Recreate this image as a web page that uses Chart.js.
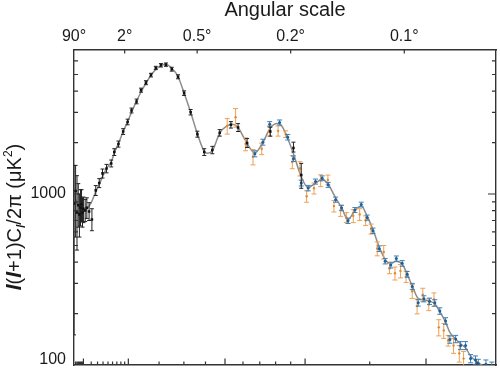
<!DOCTYPE html>
<html>
<head>
<meta charset="utf-8">
<script src="https://cdn.jsdelivr.net/npm/chart.js@4.4.1/dist/chart.umd.min.js"></script>
<style>
  html, body { margin: 0; padding: 0; background: #fff; }
</style>
</head>
<body>
<canvas id="cmb" width="500" height="369"></canvas>
<script>
// theory curve (grey line)
const curveL = [2,4,7,10,14,20,27,33,40,47,57,64,74,86,98,109,124,138,154,171,188,207,220,226,249,275,301,330,361,394,410,434,472,512,540,572,615,670,719,766,810,840,869,919,973,1022,1075,1124,1169,1226,1272,1323,1378,1430,1479,1527,1580,1631,1680,1729,1781,1826,1872,1927,1980,2033,2083,2131,2187,2229,2286,2335,2385,2436,2486,2537,2600,2700];
const curveD = [1000,880,830,810,820,890,1030,1140,1280,1410,1540,1740,1970,2320,2650,3000,3500,3950,4450,4950,5350,5640,5720,5720,5450,4850,3900,3010,2250,1770,1730,1790,2270,2510,2560,2450,2050,1740,2000,2430,2580,2500,2230,1720,1260,1090,1160,1220,1140,950,830,710,800,850,740,620,490,415,392,405,390,340,290,245,240,236,228,205,178,155,142,133,126,113,106,101,97,91];

// black points, with lower / upper ends of the error bars
const blackL = [2,3,4,5,6,7,8,9,10,12,14,17,21,27,33,39,47,57,64,74,86,98,109,124,138,154,171,188,207,226,249,275,301,330,361,394,434,472,532,572,624,766,919,973];
const blackD = [880,1040,780,860,760,830,870,780,820,800,830,790,710,1050,1160,1320,1410,1510,1760,1960,2320,2640,3080,3480,4050,4480,4960,5460,5660,5710,5370,4850,3890,3010,2240,1760,1810,2280,2540,2450,1990,2320,1860,1290];
const blackLo = [150,560,470,640,560,650,690,640,680,690,720,700,610,980,1090,1240,1330,1440,1680,1880,2230,2540,2980,3370,3940,4360,4840,5340,5530,5580,5230,4720,3770,2900,2150,1680,1720,2180,2430,2320,1870,2180,1760,1080];
const blackHi = [1470,1470,1280,1150,1000,1060,1060,950,960,930,950,890,820,1120,1230,1400,1490,1580,1840,2040,2410,2740,3180,3590,4160,4600,5080,5580,5790,5840,5510,4980,4010,3120,2330,1840,1900,2380,2650,2580,2110,2460,2010,1510];

// orange points
const orangeL = [512,558,615,659,712,762,816,866,911,964,1011,1064,1113,1167,1213,1265,1310,1365,1417,1466,1511,1563,1619,1669,1717,1766,1816,1872,1917,1970,2026,2075,2121,2169,2212,2265,2322,2365];
const orangeD = [2500,2810,1960,1650,1840,2340,2340,2240,1540,1410,970,1080,1200,1210,850,800,730,745,760,700,625,480,458,367,344,355,329,270,221,258,226,242,166,159,139,130,117,109];
const orangeErr = [260,350,170,170,140,160,160,100,135,135,75,80,95,80,65,60,48,65,60,45,42,45,42,25,30,32,25,25,22,23,18,22,18,16,10,13,13,11];

// blue points
const blueL = [670,719,762,826,880,919,973,1022,1075,1124,1169,1226,1272,1323,1378,1430,1479,1527,1580,1631,1680,1729,1781,1826,1872,1927,1980,2033,2083,2131,2187,2229,2286,2335,2385,2436,2486,2515,2594,2656];
const blueD = [1720,2010,2560,2620,2150,1610,1160,1083,1183,1236,1131,927,831,697,806,868,728,610,479,405,384,419,393,339,288,231,244,236,231,207,181,141,142,130,130,109,107,102,101,98];
const blueErr = [70,80,90,90,80,60,45,40,40,40,38,32,28,25,27,28,25,22,18,15,15,15,15,13,12,10,10,10,10,9,8,7,7,7,7,6,6,6,6,6];

// axis ticks and labels
const topTickValues = [2, 90, 360, 900, 1800];
const topTickLabels = ['90°', '2°', '0.5°', '0.2°', '0.1°'];
const bottomMajorTicks = [10, 100, 500, 1000, 2000];
const bottomMinorTicks = [3,4,5,6,7,8,9,20,30,40,50,60,70,80,90,200,300,400,600,700,800,900,1500,2500];
const yMajorTicks = [1000];
const yMinorTicks = [200,300,400,500,600,700,800,900,2000,3000,4000,5000,6000];
const yLabelValues = [100, 1000];
const yLabels = ['100', '1000'];

const FONT = '"Liberation Sans", Arial, Helvetica, sans-serif';
const POW = 0.595;

// multipole axis: stretched like l^0.595
class PowerScale extends Chart.Scale {
  static id = 'power';
  static defaults = {};
  determineDataLimits() {
    this.min = this.options.min;
    this.max = this.options.max;
  }
  buildTicks() { return []; }
  getLabelForValue(v) { return String(v); }
  configure() {
    super.configure();
    this._s = Math.pow(this.min, POW);
    this._e = Math.pow(this.max, POW);
  }
  getPixelForValue(v) {
    return this.getPixelForDecimal((Math.pow(v, POW) - this._s) / (this._e - this._s));
  }
  getValueForPixel(px) {
    const t = this.getDecimalForPixel(px);
    return Math.pow(this._s + t * (this._e - this._s), 1 / POW);
  }
}
Chart.register(PowerScale);

function points(ls, ds) { return ls.map((l, i) => ({ x: l, y: ds[i] })); }

const errorBars = {
  id: 'errorBars',
  beforeDatasetDraw(chart, args) {
    const ds = chart.data.datasets[args.index];
    if (!ds.errLow) return;
    const { ctx, chartArea: a } = chart;
    const x = chart.scales.x, y = chart.scales.y;
    const c = ds.capHalf;
    ctx.save();
    ctx.beginPath();
    ctx.rect(a.left, a.top, a.right - a.left, a.bottom - a.top);
    ctx.clip();
    ctx.strokeStyle = ds.errColor;
    ctx.lineWidth = 1;
    ctx.beginPath();
    ds.data.forEach((p, i) => {
      const px = x.getPixelForValue(p.x);
      const y1 = y.getPixelForValue(ds.errLow[i]);
      const y2 = y.getPixelForValue(ds.errHigh[i]);
      ctx.moveTo(px, y1); ctx.lineTo(px, y2);
      ctx.moveTo(px - c, y1); ctx.lineTo(px + c, y1);
      ctx.moveTo(px - c, y2); ctx.lineTo(px + c, y2);
    });
    ctx.stroke();
    ctx.restore();
  }
};

const frameExtras = {
  id: 'frameExtras',
  afterDraw(chart) {
    const { ctx, chartArea: a } = chart;
    const x = chart.scales.x, y = chart.scales.y;
    ctx.save();
    ctx.strokeStyle = '#333';
    ctx.lineWidth = 1.2;
    ctx.beginPath();
    const vt = (v, len) => {
      const px = x.getPixelForValue(v);
      ctx.moveTo(px, a.bottom); ctx.lineTo(px, a.bottom - len);
    };
    bottomMajorTicks.forEach(v => vt(v, 6.5));
    bottomMinorTicks.forEach(v => vt(v, 3.5));
    topTickValues.slice(1).forEach(v => {
      const px = x.getPixelForValue(v);
      ctx.moveTo(px, a.top); ctx.lineTo(px, a.top + 4);
    });
    const ht = (v, len) => {
      const py = y.getPixelForValue(v);
      ctx.moveTo(a.left, py); ctx.lineTo(a.left + len, py);
      ctx.moveTo(a.right, py); ctx.lineTo(a.right - len, py);
    };
    yMajorTicks.forEach(v => ht(v, 8));
    yMinorTicks.forEach(v => ht(v, 4));
    ctx.stroke();

    // y tick labels
    ctx.fillStyle = '#1a1a1a';
    ctx.font = '16px ' + FONT;
    ctx.textAlign = 'right';
    ctx.textBaseline = 'middle';
    yLabelValues.forEach((v, i) => {
      let py = y.getPixelForValue(v);
      if (py > a.bottom - 6) py = a.bottom - 5;
      ctx.fillText(yLabels[i], a.left - 8, py);
    });

    // y title: l(l+1)C_l/2pi (uK^2)
    const parts = [
      { t: 'l', f: 'italic bold 21px ' + FONT, dy: 0 },
      { t: '(', f: '20px ' + FONT, dy: 0 },
      { t: 'l', f: 'italic bold 21px ' + FONT, dy: 0 },
      { t: '+1)C', f: '20px ' + FONT, dy: 0 },
      { t: 'l', f: 'italic bold 12px ' + FONT, dy: 4 },
      { t: '/2π (μK', f: '20px ' + FONT, dy: 0 },
      { t: '2', f: '12px ' + FONT, dy: -9 },
      { t: ')', f: '20px ' + FONT, dy: 0 }
    ];
    let total = 0;
    parts.forEach(p => { ctx.font = p.f; p.w = ctx.measureText(p.t).width; total += p.w; });
    ctx.translate(21, 217);
    ctx.rotate(-Math.PI / 2);
    ctx.textAlign = 'left';
    ctx.textBaseline = 'alphabetic';
    let cx = -total / 2;
    parts.forEach(p => { ctx.font = p.f; ctx.fillText(p.t, cx, p.dy); cx += p.w; });
    ctx.restore();
  }
};

const borderOpts = { display: true, color: '#333', width: 1.4 };

new Chart(document.getElementById('cmb'), {
  type: 'scatter',
  data: {
    datasets: [
      {
        data: points(blackL, blackD),
        pointStyle: 'rect', pointRadius: 1.8, borderWidth: 0,
        backgroundColor: '#111',
        errLow: blackLo, errHigh: blackHi, errColor: '#222', capHalf: 2
      },
      {
        data: points(blueL, blueD),
        pointStyle: 'circle', pointRadius: 1.5, borderWidth: 0,
        backgroundColor: '#1f5f96',
        errLow: blueD.map((v, i) => v - blueErr[i]),
        errHigh: blueD.map((v, i) => v + blueErr[i]),
        errColor: '#3a80bb', capHalf: 2.5
      },
      {
        data: points(orangeL, orangeD),
        pointStyle: 'circle', pointRadius: 1.2, borderWidth: 0,
        backgroundColor: '#e08a30',
        errLow: orangeD.map((v, i) => v - orangeErr[i]),
        errHigh: orangeD.map((v, i) => v + orangeErr[i]),
        errColor: '#eea055', capHalf: 2.5
      },
      {
        data: points(curveL, curveD),
        showLine: true, pointRadius: 0,
        borderColor: '#8c8c8c', borderWidth: 1.5,
        cubicInterpolationMode: 'monotone'
      }
    ]
  },
  options: {
    responsive: false,
    animation: false,
    events: [],
    devicePixelRatio: 1,
    layout: { padding: { left: 74, right: 2, top: 0, bottom: 3 } },
    plugins: { legend: { display: false }, tooltip: { enabled: false } },
    scales: {
      x: {
        type: 'power', position: 'bottom', min: 2, max: 2700,
        grid: { display: false, drawTicks: false },
        ticks: { display: false },
        border: borderOpts
      },
      x2: {
        type: 'power', position: 'top', min: 2, max: 2700,
        afterBuildTicks: s => { s.ticks = topTickValues.map(v => ({ value: v })); },
        grid: { display: false, drawTicks: false },
        ticks: {
          padding: 5, maxRotation: 0, autoSkip: false, color: '#1a1a1a',
          font: { family: FONT, size: 16, lineHeight: 1 },
          callback: (v, i) => topTickLabels[i]
        },
        title: {
          display: true, text: 'Angular scale', color: '#1a1a1a',
          font: { family: FONT, size: 20, lineHeight: 1 },
          padding: { top: 0, bottom: 3.5 }
        },
        border: borderOpts
      },
      y: {
        type: 'logarithmic', position: 'left', min: 100, max: 7000,
        grid: { display: false, drawTicks: false },
        ticks: { display: false },
        border: borderOpts
      },
      y2: {
        type: 'logarithmic', position: 'right', min: 100, max: 7000,
        grid: { display: false, drawTicks: false },
        ticks: { display: false },
        border: borderOpts
      }
    }
  },
  plugins: [errorBars, frameExtras]
});
</script>
</body>
</html>
